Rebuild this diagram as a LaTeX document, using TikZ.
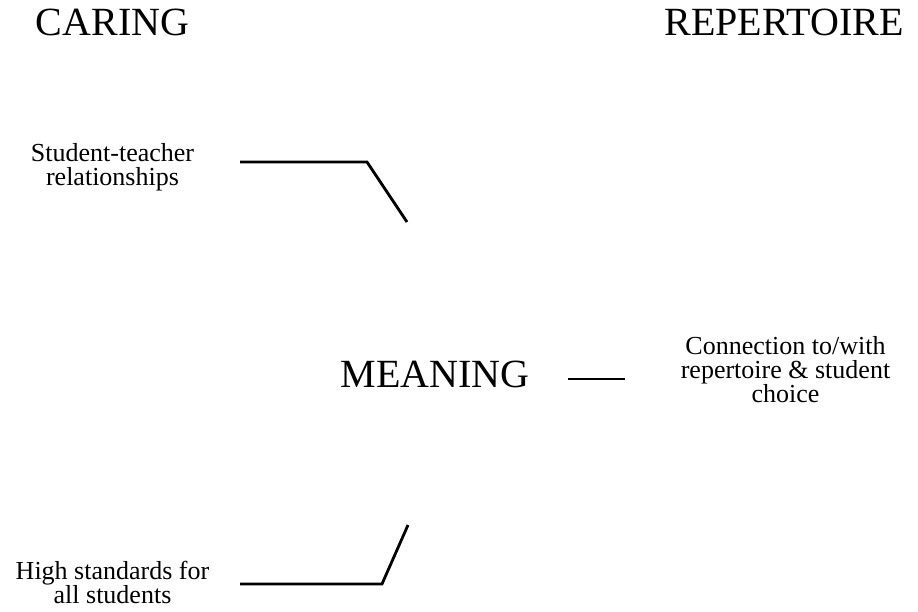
\documentclass[tikz,border=0pt]{standalone}
\usepackage{fontspec}
\setmainfont{Liberation Serif}
\tikzset{
  big/.style={font=\fontsize{40}{44}\selectfont, inner sep=0pt, anchor=base},
  small/.style={font=\fontsize{26}{24}\selectfont, align=center, inner sep=0pt, anchor=base},
  link/.style={line width=2.8pt}
}
\begin{document}
\begin{tikzpicture}[x=1pt,y=-1pt]
    \useasboundingbox (0,0) rectangle (918,611);

    \node[big] (caring) at (112.5,35) {CARING};
    \node[big] (repertoire) at (784,35) {REPERTOIRE};
    \node[big] (meaning) at (435,387) {MEANING};

    % base anchor sits on the last line
    \node[small] (relations) at (112.5,185) {Student-teacher\\relationships};
    \node[small] (standards) at (112.5,603) {High standards for\\all students};
    \node[small] (choice) at (785.5,402) {Connection to/with\\repertoire \& student\\choice};

    \coordinate (a1) at (240,162);
    \coordinate (a2) at (367,162);
    \coordinate (a3) at (407,222);
    \draw[link] (a1)--(a2)--(a3);

    \coordinate (b1) at (240,584);
    \coordinate (b2) at (382,584);
    \coordinate (b3) at (408,525);
    \draw[link] (b1)--(b2)--(b3);

    \coordinate (c1) at (568,379);
    \coordinate (c2) at (625,379);
    \draw[link] (c1)--(c2);
  \end{tikzpicture}
\end{document}
